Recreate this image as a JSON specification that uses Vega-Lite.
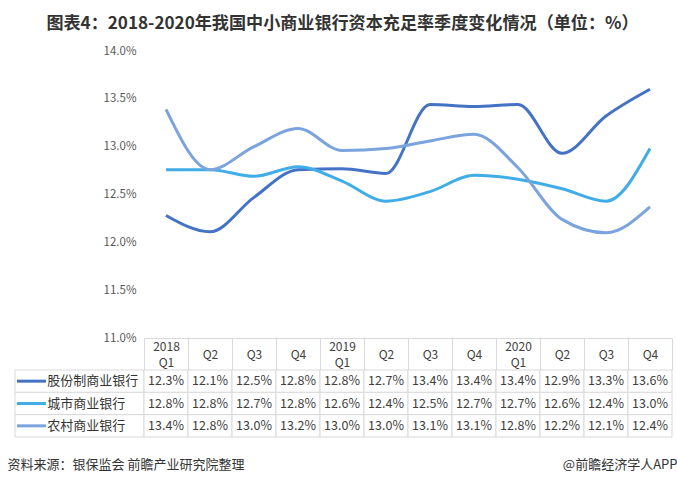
{
  "$schema": "https://vega.github.io/schema/vega-lite/v6.json",
  "padding": {"left": 7, "right": 1, "top": 14, "bottom": 12},
  "background": "white",
  "title": {
    "text": "图表4：2018-2020年我国中小商业银行资本充足率季度变化情况（单位：%）",
    "fontSize": 17.1,
    "fontWeight": "bold",
    "font": "Noto Sans CJK SC",
    "color": "#333333",
    "anchor": "middle",
    "offset": 13
  },
  "config": {
    "view": {"stroke": null},
    "font": "Noto Sans CJK SC"
  },
  "datasets": {
    "d": [
      {"q": "2018Q1", "s": "股份制商业银行", "v": 0.1228},
      {"q": "2018Q2", "s": "股份制商业银行", "v": 0.1211},
      {"q": "2018Q3", "s": "股份制商业银行", "v": 0.1247},
      {"q": "2018Q4", "s": "股份制商业银行", "v": 0.1276},
      {"q": "2019Q1", "s": "股份制商业银行", "v": 0.1277},
      {"q": "2019Q2", "s": "股份制商业银行", "v": 0.1272},
      {"q": "2019Q3", "s": "股份制商业银行", "v": 0.1344},
      {"q": "2019Q4", "s": "股份制商业银行", "v": 0.1342},
      {"q": "2020Q1", "s": "股份制商业银行", "v": 0.1344},
      {"q": "2020Q2", "s": "股份制商业银行", "v": 0.1293},
      {"q": "2020Q3", "s": "股份制商业银行", "v": 0.1332},
      {"q": "2020Q4", "s": "股份制商业银行", "v": 0.1360},
      {"q": "2018Q1", "s": "城市商业银行", "v": 0.1276},
      {"q": "2018Q2", "s": "城市商业银行", "v": 0.1276},
      {"q": "2018Q3", "s": "城市商业银行", "v": 0.1269},
      {"q": "2018Q4", "s": "城市商业银行", "v": 0.1279},
      {"q": "2019Q1", "s": "城市商业银行", "v": 0.1264},
      {"q": "2019Q2", "s": "城市商业银行", "v": 0.1243},
      {"q": "2019Q3", "s": "城市商业银行", "v": 0.1253},
      {"q": "2019Q4", "s": "城市商业银行", "v": 0.1270},
      {"q": "2020Q1", "s": "城市商业银行", "v": 0.1266},
      {"q": "2020Q2", "s": "城市商业银行", "v": 0.1256},
      {"q": "2020Q3", "s": "城市商业银行", "v": 0.1243},
      {"q": "2020Q4", "s": "城市商业银行", "v": 0.1298},
      {"q": "2018Q1", "s": "农村商业银行", "v": 0.1339},
      {"q": "2018Q2", "s": "农村商业银行", "v": 0.1276},
      {"q": "2018Q3", "s": "农村商业银行", "v": 0.1300},
      {"q": "2018Q4", "s": "农村商业银行", "v": 0.1319},
      {"q": "2019Q1", "s": "农村商业银行", "v": 0.1296},
      {"q": "2019Q2", "s": "农村商业银行", "v": 0.1298},
      {"q": "2019Q3", "s": "农村商业银行", "v": 0.1306},
      {"q": "2019Q4", "s": "农村商业银行", "v": 0.1313},
      {"q": "2020Q1", "s": "农村商业银行", "v": 0.1278},
      {"q": "2020Q2", "s": "农村商业银行", "v": 0.1224},
      {"q": "2020Q3", "s": "农村商业银行", "v": 0.1210},
      {"q": "2020Q4", "s": "农村商业银行", "v": 0.1237}
    ]
  },
  "columns": 2,
  "spacing": {"row": 32, "column": 0},
  "bounds": "flush",
  "resolve": {"scale": {"x": "independent", "y": "independent"}},
  "concat": [
    {
      "width": 129,
      "height": 287,
      "data": {"values": [{"a": 1}]},
      "mark": {"type": "point", "opacity": 0},
      "encoding": {}
    },
    {
      "width": 528,
      "height": 287,
      "data": {"name": "d"},
      "mark": {"type": "line", "interpolate": "monotone", "strokeWidth": 3},
      "encoding": {
        "x": {
          "field": "q",
          "type": "nominal",
          "sort": null,
          "scale": {"type": "band", "paddingInner": 0, "paddingOuter": 0},
          "axis": {
            "title": null,
            "orient": "bottom",
            "domainColor": "#d9d9d9",
            "tickBand": "extent",
            "tickSize": 32,
            "tickColor": "#d9d9d9",
            "labelAngle": 0,
            "labelPadding": -24,
            "labelBaseline": "middle",
            "labelFontSize": 12,
            "labelLineHeight": 8,
            "labelColor": "#404040",
            "labelOverlap": false,
            "labelFlush": false,
            "labelExpr": "isString(datum.value) ? (test(/Q1$/, datum.value) ? [substring(datum.value, 0, 4), '\u200b', 'Q1'] : ['\u200b', substring(datum.value, 4)]) : ''"
          }
        },
        "y": {
          "field": "v",
          "type": "quantitative",
          "scale": {"domain": [0.11, 0.14], "zero": false},
          "axis": {
            "title": null,
            "values": [0.11, 0.115, 0.12, 0.125, 0.13, 0.135, 0.14],
            "format": ".1%",
            "grid": false,
            "domain": false,
            "ticks": false,
            "labelPadding": 8,
            "labelFontSize": 11.5,
            "labelColor": "#595959"
          }
        },
        "color": {
          "field": "s",
          "type": "nominal",
          "scale": {
            "domain": ["股份制商业银行", "城市商业银行", "农村商业银行"],
            "range": ["#4472C4", "#41ADE8", "#7BA3DE"]
          },
          "legend": null
        }
      }
    },
    {
      "width": 129,
      "height": 67,
      "data": {"name": "d"},
      "transform": [{"filter": "datum.q == '2018Q1'"}],
      "title": {
        "text": "资料来源：银保监会 前瞻产业研究院整理",
        "orient": "bottom",
        "anchor": "start",
        "dx": -7,
        "offset": 21,
        "fontSize": 13,
        "fontWeight": "normal",
        "color": "#333333"
      },
      "encoding": {
        "y": {
          "field": "s",
          "type": "nominal",
          "sort": ["股份制商业银行", "城市商业银行", "农村商业银行"],
          "scale": {"paddingInner": 0, "paddingOuter": 0},
          "axis": null
        }
      },
      "layer": [
        {
          "mark": {"type": "rect", "fill": "white", "stroke": "#d9d9d9", "strokeWidth": 1}
        },
        {
          "mark": {"type": "rule", "strokeWidth": 3},
          "encoding": {
            "y": {"field": "s", "type": "nominal", "sort": ["股份制商业银行", "城市商业银行", "农村商业银行"], "bandPosition": 0.5, "axis": null},
            "x": {"datum": 0.015, "type": "quantitative", "scale": {"domain": [0, 1]}, "axis": null},
            "x2": {"datum": 0.24},
            "color": {
              "field": "s",
              "type": "nominal",
              "scale": {
                "domain": ["股份制商业银行", "城市商业银行", "农村商业银行"],
                "range": ["#4472C4", "#41ADE8", "#7BA3DE"]
              },
              "legend": null
            }
          }
        },
        {
          "mark": {"type": "text", "align": "left", "baseline": "middle", "fontSize": 13, "fill": "#333333"},
          "encoding": {
            "y": {"field": "s", "type": "nominal", "sort": ["股份制商业银行", "城市商业银行", "农村商业银行"], "bandPosition": 0.5, "axis": null},
            "x": {"datum": 0.25, "type": "quantitative", "axis": null},
            "text": {"field": "s"}
          }
        }
      ]
    },
    {
      "width": 528,
      "height": 67,
      "data": {"name": "d"},
      "title": {
        "text": "@前瞻经济学人APP",
        "orient": "bottom",
        "anchor": "end",
        "dx": 5,
        "offset": 21,
        "fontSize": 13,
        "fontWeight": "normal",
        "color": "#333333"
      },
      "encoding": {
        "x": {
          "field": "q",
          "type": "nominal",
          "sort": null,
          "scale": {"type": "band", "paddingInner": 0, "paddingOuter": 0},
          "axis": null
        },
        "y": {
          "field": "s",
          "type": "nominal",
          "sort": ["股份制商业银行", "城市商业银行", "农村商业银行"],
          "scale": {"paddingInner": 0, "paddingOuter": 0},
          "axis": null
        }
      },
      "layer": [
        {"mark": {"type": "rect", "fill": "white", "stroke": "#d9d9d9", "strokeWidth": 1}},
        {
          "mark": {"type": "text", "fontSize": 12.5, "fill": "#404040", "baseline": "middle"},
          "encoding": {"text": {"field": "v", "type": "quantitative", "format": ".1%"}}
        }
      ]
    }
  ]
}
